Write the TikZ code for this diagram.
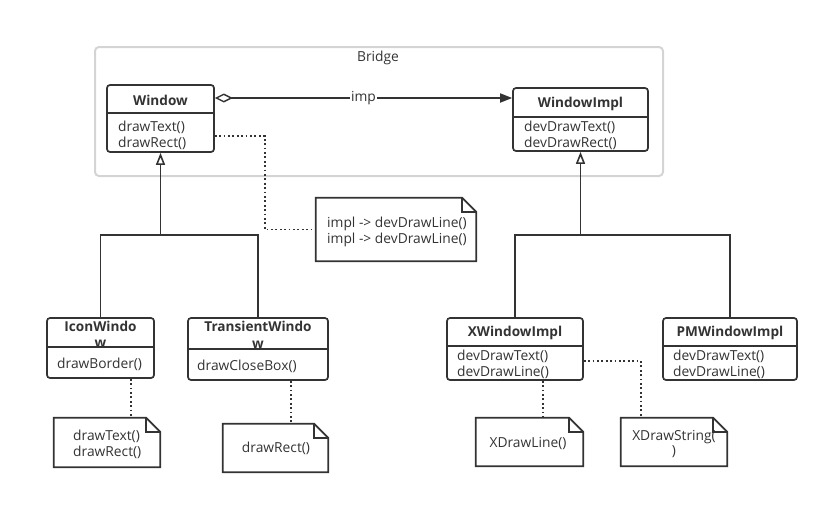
\documentclass[tikz,border=0pt]{standalone}
\usepackage{fontspec}
\setmainfont{Open Sans}
\usetikzlibrary{calc}
\usetikzlibrary{arrows.meta}

\definecolor{umlline}{HTML}{333333}
\definecolor{umlframe}{HTML}{D4D4D4}

\tikzset{
  umlbox/.style={draw=umlline, line width=1.7pt, rounded corners=3pt, fill=white, inner sep=0pt},
  umlsep/.style={draw=umlline, line width=1.7pt},
  notebox/.style={inner sep=0pt},
  noteline/.style={draw=umlline, line width=1.7pt, line join=miter},
  umltitle/.style={font=\bfseries\fontsize{13.6}{16.5}\selectfont, text=umlline, align=center, inner sep=0pt},
  umltext/.style={font=\fontsize{13.8}{15.8}\selectfont, text=umlline, align=left, inner sep=0pt},
  umlconn/.style={draw=umlline, line width=1.7pt},
  inherit/.style={umlconn, -{Triangle[open, length=12pt, width=9pt, line width=1.6pt]}},
  aggreg/.style={umlconn, {Diamond[open, length=18pt, width=9pt, line width=1.4pt]}-{Triangle[length=12pt, width=9pt]}},
  dotline/.style={draw=umlline, line width=1.8pt, dash pattern=on 1.8pt off 2.6pt},
}

% dog-eared outline round a note node
\newcommand{\notefold}[1]{%
  \draw[noteline] (#1.north west) -- ($(#1.north east)+(-\fold,0)$) -- ($(#1.north east)+(0,\fold)$)
    -- (#1.south east) -- (#1.south west) -- cycle;
  \draw[noteline] ($(#1.north east)+(-\fold,0)$) |- ($(#1.north east)+(0,\fold)$);
}

\begin{document}
\begin{tikzpicture}[x=1pt, y=-1pt]
    \useasboundingbox (0,0) rectangle (829,504);
    \def\fold{14}  % size of the folded corner

    % Draw the bridge frame
    \draw[draw=umlframe, line width=2pt, rounded corners=4pt] (95,47) rectangle (663,176);
    \node[umltext] (bridge) at (378,58) {Bridge};

    % Draw the abstraction side
    \node[umlbox, minimum width=107pt, minimum height=67pt] (window) at (160.5,118.5) {};
    \draw[umlsep] ($(window.north west)+(0,29)$) -- ($(window.north east)+(0,29)$);
    \node[umltitle] (windowname) at (160.5,100) {Window};
    \node[umltext, anchor=west] (windowops) at (118,135) {drawText()\\drawRect()};

    \node[umlbox, minimum width=107pt, minimum height=60pt] (iconwindow) at (100.5,348) {};
    \draw[umlsep] ($(iconwindow.north west)+(0,30)$) -- ($(iconwindow.north east)+(0,30)$);
    \node[umltitle] (iconwindowname) at (100.5,334.5) {IconWindo\\w};
    \node[umltext, anchor=west] (iconwindowops) at (57,364) {drawBorder()};

    \node[umlbox, minimum width=140pt, minimum height=62pt] (transientwindow) at (258,349) {};
    \draw[umlsep] ($(transientwindow.north west)+(0,32)$) -- ($(transientwindow.north east)+(0,32)$);
    \node[umltitle] (transientwindowname) at (258,335) {TransientWindo\\w};
    \node[umltext, anchor=west] (transientwindowops) at (197,366) {drawCloseBox()};

    % Draw the implementation side
    \node[umlbox, minimum width=135pt, minimum height=63pt] (windowimpl) at (580.5,119.5) {};
    \draw[umlsep] ($(windowimpl.north west)+(0,30)$) -- ($(windowimpl.north east)+(0,30)$);
    \node[umltitle] (windowimplname) at (580.5,104) {WindowImpl};
    \node[umltext, anchor=west] (windowimplops) at (524,135) {devDrawText()\\devDrawRect()};

    \node[umlbox, minimum width=136pt, minimum height=62pt] (xwindowimpl) at (515,349) {};
    \draw[umlsep] ($(xwindowimpl.north west)+(0,29)$) -- ($(xwindowimpl.north east)+(0,29)$);
    \node[umltitle] (xwindowimplname) at (515,333) {XWindowImpl};
    \node[umltext, anchor=west] (xwindowimplops) at (457,364.5) {devDrawText()\\devDrawLine()};

    \node[umlbox, minimum width=134pt, minimum height=62pt] (pmwindowimpl) at (730,349) {};
    \draw[umlsep] ($(pmwindowimpl.north west)+(0,29)$) -- ($(pmwindowimpl.north east)+(0,29)$);
    \node[umltitle] (pmwindowimplname) at (730,333) {PMWindowImpl};
    \node[umltext, anchor=west] (pmwindowimplops) at (673,364.5) {devDrawText()\\devDrawLine()};

    % Draw the notes
    \node[notebox, minimum width=160pt, minimum height=63pt] (implnote) at (396,229.5) {};
    \notefold{implnote}
    \node[umltext, anchor=west] (implnotetext) at (327,232) {impl -> devDrawLine()\\impl -> devDrawLine()};

    \node[notebox, minimum width=106pt, minimum height=49pt] (iconnote) at (107,442.5) {};
    \notefold{iconnote}
    \node[umltext, anchor=west] (iconnotetext) at (73,444) {drawText()\\drawRect()};

    \node[notebox, minimum width=105pt, minimum height=48pt] (transientnote) at (275.5,448) {};
    \notefold{transientnote}
    \node[umltext] (transientnotetext) at (276,448) {drawRect()};

    \node[notebox, minimum width=107pt, minimum height=48pt] (xlinenote) at (529.5,442) {};
    \notefold{xlinenote}
    \node[umltext] (xlinenotetext) at (528,444) {XDrawLine()};

    \node[notebox, minimum width=106pt, minimum height=48pt] (xstringnote) at (674,442) {};
    \notefold{xstringnote}
    \node[umltext, align=center] (xstringnotetext) at (674,444) {XDrawString(\\)};

    % Draw the bridge association
    \coordinate (impy) at (0,98);
    \draw[aggreg] (window.east |- impy) -- (windowimpl.west |- impy)
        node[midway, fill=white, inner sep=1pt, font=\fontsize{13.8}{15}\selectfont, text=umlline] (implabel) {imp};

    % Draw the generalizations
    \coordinate (windowfork) at (160.5,235);
    \coordinate (implfork) at (580.5,235);
    \draw[inherit] (windowfork) -- (window.south);
    \draw[umlconn] (iconwindow.north) |- (windowfork) -| (transientwindow.north);
    \draw[inherit] (implfork) -- (windowimpl.south);
    \draw[umlconn] (xwindowimpl.north) |- (implfork) -| (pmwindowimpl.north);

    % Draw the note links
    \coordinate (iconlink) at (131,0);
    \coordinate (transientlink) at (291,0);
    \coordinate (xlinelink) at (543,0);
    \coordinate (xstringlink) at (641,0);
    \draw[dotline] ($(window.east)+(0,17.5)$) -| ($(implnote.west)+(-51,0)$) -- (implnote.west);
    \draw[dotline] (iconwindow.south -| iconlink) -- (iconnote.north -| iconlink);
    \draw[dotline] (transientwindow.south -| transientlink) -- (transientnote.north -| transientlink);
    \draw[dotline] (xwindowimpl.south -| xlinelink) -- (xlinenote.north -| xlinelink);
    \draw[dotline] ($(xwindowimpl.east)+(0,12)$) -| (xstringnote.north -| xstringlink);

\end{tikzpicture}
\end{document}
